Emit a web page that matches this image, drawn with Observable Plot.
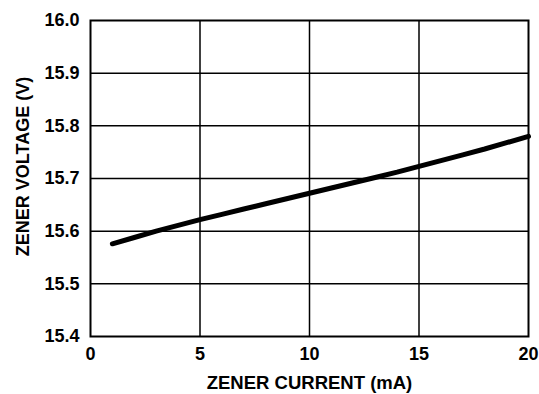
<!DOCTYPE html>
<html>
<head>
<meta charset="utf-8">
<script src="https://cdn.jsdelivr.net/npm/d3@7"></script>
<script src="https://cdn.jsdelivr.net/npm/@observablehq/plot@0.6"></script>
<style>
  html, body { margin: 0; padding: 0; background: #fff; }
  #chart svg { display: block; }
</style>
</head>
<body>
<div id="chart"></div>
<script>
const current = [1, 2, 3, 4, 5, 6, 7, 8, 9, 10, 11, 12, 13, 14, 15, 16, 17, 18, 19, 20];
const voltage = [15.576, 15.588, 15.600, 15.611, 15.622, 15.632, 15.642, 15.652, 15.662, 15.672,
                 15.682, 15.692, 15.702, 15.712, 15.723, 15.734, 15.745, 15.756, 15.768, 15.780];
const xTicks = [0, 5, 10, 15, 20];
const yTicks = [15.4, 15.5, 15.6, 15.7, 15.8, 15.9, 16.0];
const xLabel = "ZENER CURRENT (mA)";
const yLabel = "ZENER VOLTAGE (V)";

const data = current.map((c, i) => ({current: c, voltage: voltage[i]}));

const chart = Plot.plot({
  width: 539,
  height: 394,
  marginLeft: 90,
  marginRight: 11,
  marginTop: 20,
  marginBottom: 58,
  style: {fontFamily: "'Liberation Sans', Arial, sans-serif", fontWeight: "bold", fontSize: "18px", color: "black", background: "white"},
  x: {domain: [0, 20]},
  y: {domain: [15.4, 16.0]},
  marks: [
    Plot.gridX(xTicks.slice(1, -1), {stroke: "black", strokeOpacity: 1, strokeWidth: 1.5}),
    Plot.gridY(yTicks.slice(1, -1), {stroke: "black", strokeOpacity: 1, strokeWidth: 1.5}),
    Plot.frame({stroke: "black", strokeWidth: 2}),
    Plot.axisX({ticks: xTicks, tickSize: 0, tickPadding: 11, tickFormat: d3.format("d"), label: null}),
    Plot.axisY({ticks: yTicks, tickSize: 0, tickPadding: 11, tickFormat: d3.format(".1f"), label: null}),
    Plot.line(data, {x: "current", y: "voltage", stroke: "black", strokeWidth: 5, strokeLinecap: "round", strokeLinejoin: "round"}),
    Plot.text([xLabel], {frameAnchor: "bottom", text: d => d, dy: 47, textAnchor: "middle", lineAnchor: "middle", fontSize: 18.5, fontWeight: "bold"}),
    Plot.text([yLabel], {frameAnchor: "left", text: d => d, rotate: -90, dx: -67, dy: -12, textAnchor: "middle", lineAnchor: "middle", fontSize: 18, fontWeight: "bold"})
  ]
});
document.getElementById("chart").appendChild(chart);
</script>
</body>
</html>
